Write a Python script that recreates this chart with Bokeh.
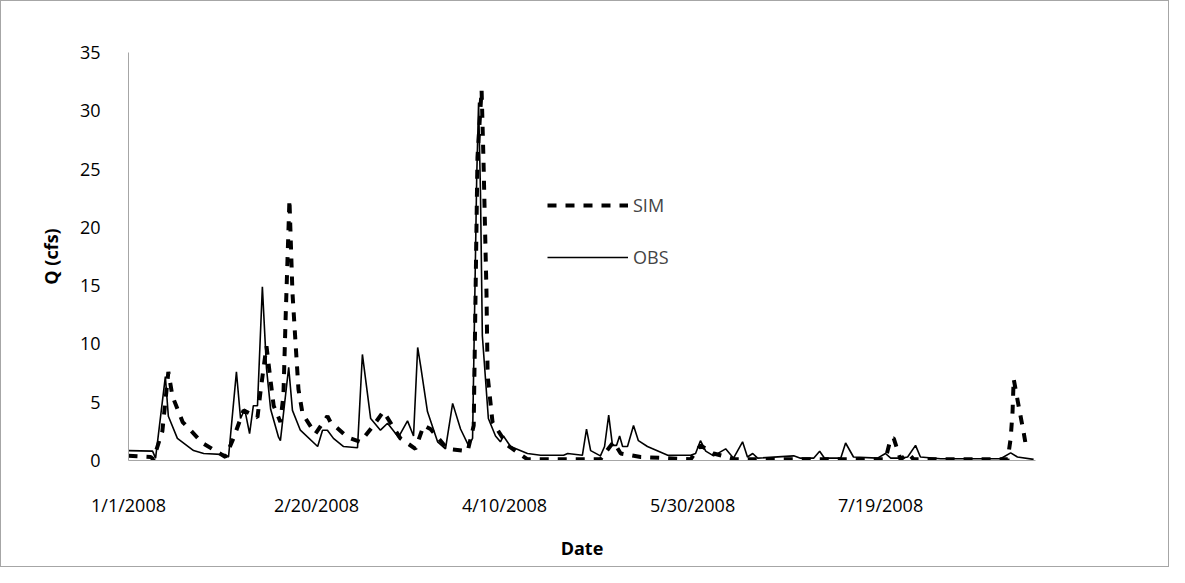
from bokeh.plotting import figure
from bokeh.models import FixedTicker, Legend, LegendItem, Range1d
from bokeh.embed import file_html
from bokeh.resources import INLINE

# days since 1/1/2008
obs_day = [0,6.4,7.2,9.8,10.6,13,17.3,20,25.8,26.6,28.7,29.8,30.9,32.2,33.2,34.3,35.6,36.7,37.8,39.9,40.4,42.6,43.6,45.7,50.3,51.6,52.9,54.5,57.2,60.9,62.2,64.4,67,68.9,71.8,74.2,75.8,76.9,77.7,79.5,82.2,84.3,86.2,88.3,90.4,91.5,92.6,93.1,93.6,94.1,95.7,97.6,98.9,99.7,101.6,106.1,109.6,115.7,116.8,120.7,121.8,122.9,125.5,126.6,127.7,128.7,129.8,130.6,131.4,132.7,134.3,135.6,138,143.4,149.5,150.8,152.1,153.5,155.6,158.8,160.9,163.3,164.6,166,167.3,176.9,178.7,182.2,183.8,185.1,189.4,190.7,192.8,199.2,201.3,202.7,205.3,207.2,209.3,210.6,216,231.9,234.6,236.4,240.7]
obs_q = [0.85,0.8,0.2,7.2,3.8,1.9,0.85,0.6,0.5,0.3,7.6,3.6,4.4,2.3,4.7,4.7,14.9,7.9,4.4,2.0,1.7,8.0,4.3,2.6,1.2,2.6,2.6,1.9,1.2,1.1,9.1,3.6,2.6,3.2,2.0,3.4,2.1,9.7,8.1,4.2,1.6,1.0,4.9,2.7,1.3,1.9,24.3,30.7,23,10.7,3.6,2.1,1.6,2.1,1.2,0.6,0.45,0.45,0.6,0.45,2.7,0.85,0.4,1.2,3.9,1.3,1.3,2.1,1.2,1.2,3.0,1.7,1.2,0.45,0.45,0.6,1.7,0.8,0.4,1.0,0.2,1.6,0.3,0.6,0.2,0.4,0.2,0.2,0.8,0.2,0.2,1.5,0.3,0.2,0.6,0.2,0.2,0.3,1.3,0.3,0.15,0.15,0.65,0.3,0.1]
sim_day = [0,5.9,6.6,9,10.6,11.7,14.4,19.7,25.8,27.9,30.6,34.3,35.1,35.9,36.7,37.8,38.6,40.4,41.2,41.8,42.8,43.6,44.4,45.2,46.3,49.7,52.9,53.7,58.2,61.7,64.9,67.8,72.3,76.3,78.5,80.3,84.8,90.2,91.8,92.8,93.9,94.4,95.2,95.5,96.8,100.8,106.1,125.5,129,130.9,136.2,149.5,152.1,155.6,161.4,201.3,202.7,203.5,205.3,207.4,208.8,233.8,234.6,235.1,235.4,236.7,238,238.8]
sim_q = [0.4,0.3,0.1,2.5,7.6,5.5,3.3,1.5,0.3,1.9,4.3,3.7,5.9,7.9,9.8,6.8,4.7,3.3,5.6,12.4,22.4,14.4,10.2,6.1,4.0,2.3,3.8,3.3,2.0,1.6,2.9,4.2,1.9,1.0,3.0,2.7,1.0,0.8,3.0,26,31.8,25.8,14.4,7.3,3.3,1.3,0.1,0.1,1.6,0.6,0.3,0.1,1.3,0.6,0.1,0.1,1.9,1.9,0.1,0.6,0.1,0.1,1.9,4.2,7.0,4.7,2.5,1.0]
tick_days = [0, 50, 100, 150, 200]
tick_labels = ["1/1/2008", "2/20/2008", "4/10/2008", "5/30/2008", "7/19/2008"]
y_ticks = [0, 5, 10, 15, 20, 25, 30, 35]

FONT = "Open Sans"
p = figure(width=1169, height=567, output_backend="svg", toolbar_location=None,
           x_range=Range1d(0, 241.2), y_range=Range1d(0, 35),
           min_border_left=127, min_border_right=135, min_border_top=51, min_border_bottom=108,
           styles={"border": "1px solid #a6a6a6", "box-sizing": "border-box"})
p.outline_line_color = None
p.xgrid.visible = False
p.ygrid.visible = False

r_sim = p.line(sim_day, sim_q, line_color="black", line_width=4, line_dash="9 9")
r_obs = p.line(obs_day, obs_q, line_color="black", line_width=1.6)

for ax in (p.xaxis[0], p.yaxis[0]):
    ax.axis_line_color = "#a6a6a6"
    ax.major_tick_line_color = None
    ax.minor_tick_line_color = None
    ax.major_label_text_font = FONT
    ax.major_label_text_font_size = "18px"
    ax.major_label_text_color = "black"
    ax.axis_label_text_font = FONT
    ax.axis_label_text_font_size = "18px"
    ax.axis_label_text_font_style = "bold"
    ax.axis_label_text_color = "black"

p.xaxis.ticker = FixedTicker(ticks=tick_days)
p.xaxis.major_label_overrides = {d: l for d, l in zip(tick_days, tick_labels)}
p.xaxis.major_label_standoff = 26
p.xaxis.axis_label = "Date"
p.xaxis.axis_label_standoff = 16
p.yaxis.ticker = FixedTicker(ticks=y_ticks)
p.yaxis.major_label_standoff = 22
p.yaxis.axis_label = "Q (cfs)"
p.yaxis.axis_label_standoff = 14

leg = Legend(items=[LegendItem(label="SIM", renderers=[r_sim]), LegendItem(label="OBS", renderers=[r_obs])],
             location=(419, 191), glyph_width=81, glyph_height=20, label_height=20, spacing=28,
             padding=0, margin=0, border_line_color=None, background_fill_alpha=0,
             label_text_font=FONT, label_text_font_size="18px", label_standoff=5)
p.add_layout(leg)

open("out.html", "w").write(file_html(p, INLINE))
